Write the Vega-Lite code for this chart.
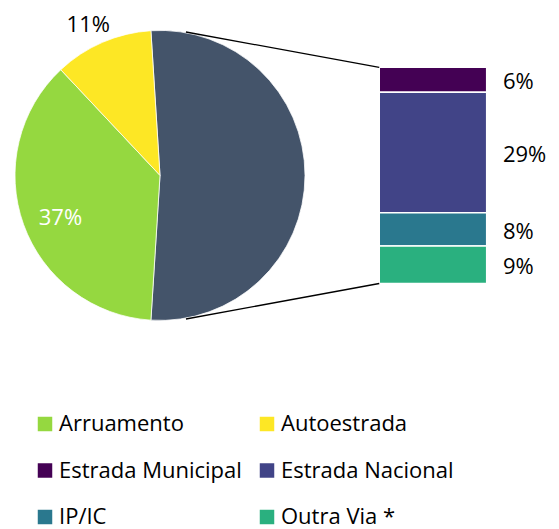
{
  "$schema": "https://vega.github.io/schema/vega-lite/v6.json",
  "width": 559,
  "height": 529,
  "padding": 0,
  "autosize": {"type": "none"},
  "background": "white",
  "config": {"view": {"stroke": null}, "font": "Open Sans"},
  "datasets": {
    "pie": [
      {"cat": "Outras", "v": 0.52, "ord": 1},
      {"cat": "Arruamento", "v": 0.37, "ord": 2},
      {"cat": "Autoestrada", "v": 0.11, "ord": 3}
    ],
    "bar": [
      {"cat": "Estrada Municipal", "v": 0.06, "ord": 4},
      {"cat": "Estrada Nacional", "v": 0.29, "ord": 3},
      {"cat": "IP/IC", "v": 0.08, "ord": 2},
      {"cat": "Outra Via *", "v": 0.09, "ord": 1}
    ]
  },
  "layer": [
    {
      "data": {"name": "pie"},
      "mark": {"type": "arc", "radius": 145, "stroke": "white", "strokeWidth": 0.75},
      "encoding": {
        "x": {"datum": 0.385, "type": "quantitative", "scale": {"domain": [0, 1.345], "nice": false, "zero": false}, "axis": null},
        "y": {"datum": 0.26, "type": "quantitative", "scale": {"domain": [-0.5906, 0.682], "nice": false, "zero": false}, "axis": null},
        "theta": {"field": "v", "type": "quantitative", "stack": true, "scale": {"domain": [0, 1], "range": [-0.06283, 6.22035]}},
        "order": {"field": "ord", "type": "quantitative"},
        "color": {
          "field": "cat", "type": "nominal",
          "scale": {
            "domain": ["Arruamento", "Autoestrada", "Estrada Municipal", "Estrada Nacional", "IP/IC", "Outra Via *", "Outras"],
            "range": ["#95D840", "#FDE725", "#440154", "#414487", "#2A788E", "#2AB07F", "#44546A"]
          },
          "legend": {
            "orient": "none", "legendX": 34, "legendY": 413, "columns": 2,
            "values": ["Arruamento", "Estrada Municipal", "IP/IC", "Autoestrada", "Estrada Nacional", "Outra Via *"],
            "symbolType": "square", "symbolSize": 210, "symbolStrokeWidth": 0,
            "labelFont": "Open Sans", "labelFontSize": 22, "labelColor": "black", "labelOffset": 3,
            "rowPadding": 24.5, "columnPadding": 14, "title": null, "labelLimit": 0, "padding": 0
          }
        }
      }
    },
    {
      "data": {"name": "pie"},
      "mark": {"type": "text", "radius": 109, "fontSize": 22, "color": "white", "align": "center", "baseline": "middle", "dx": 3, "dy": 6},
      "encoding": {
        "x": {"datum": 0.385, "type": "quantitative"},
        "y": {"datum": 0.26, "type": "quantitative"},
        "theta": {"field": "v", "type": "quantitative", "stack": true},
        "order": {"field": "ord", "type": "quantitative"},
        "text": {"condition": {"test": "datum.cat === 'Arruamento'", "field": "v", "format": ".0%"}, "value": ""}
      }
    },
    {
      "data": {"name": "pie"},
      "mark": {"type": "text", "radius": 168, "fontSize": 22, "color": "black", "align": "center", "baseline": "middle", "dx": -5, "dy": 3.5},
      "encoding": {
        "x": {"datum": 0.385, "type": "quantitative"},
        "y": {"datum": 0.26, "type": "quantitative"},
        "theta": {"field": "v", "type": "quantitative", "stack": true},
        "order": {"field": "ord", "type": "quantitative"},
        "text": {"condition": {"test": "datum.cat === 'Autoestrada'", "field": "v", "format": ".0%"}, "value": ""}
      }
    },
    {
      "data": {"name": "bar"},
      "transform": [
        {"stack": "v", "groupby": [], "sort": [{"field": "ord", "order": "ascending"}], "as": ["y0", "y1"]}
      ],
      "mark": {"type": "rect", "stroke": "white", "strokeWidth": 1.5},
      "encoding": {
        "x": {"datum": 0.9125, "type": "quantitative"},
        "x2": {"datum": 1.171},
        "y": {"field": "y0", "type": "quantitative"},
        "y2": {"field": "y1"},
        "color": {
          "field": "cat", "type": "nominal",
          "legend": {
            "orient": "none", "legendX": 34, "legendY": 413, "columns": 2,
            "values": ["Arruamento", "Estrada Municipal", "IP/IC", "Autoestrada", "Estrada Nacional", "Outra Via *"],
            "symbolType": "square", "symbolSize": 210, "symbolStrokeWidth": 0,
            "labelFont": "Open Sans", "labelFontSize": 22, "labelColor": "black", "labelOffset": 3,
            "rowPadding": 24.5, "columnPadding": 14, "title": null, "labelLimit": 0, "padding": 0
          }
        }
      }
    },
    {
      "data": {"name": "bar"},
      "mark": {"type": "text", "fontSize": 22, "color": "black", "align": "left", "baseline": "middle", "dy": 2.5},
      "encoding": {
        "x": {"datum": 1.21, "type": "quantitative"},
        "y": {"field": "v", "type": "quantitative", "stack": "zero", "bandPosition": 0.5},
        "order": {"field": "ord", "type": "quantitative"},
        "text": {"field": "v", "type": "quantitative", "format": ".0%"}
      }
    },
    {
      "data": {"values": [{}]},
      "mark": {"type": "rule", "color": "black", "strokeWidth": 1.3},
      "encoding": {
        "x": {"datum": 0.4474, "type": "quantitative"},
        "y": {"datum": 0.605, "type": "quantitative"},
        "x2": {"datum": 0.9125},
        "y2": {"datum": 0.52}
      }
    },
    {
      "data": {"values": [{}]},
      "mark": {"type": "rule", "color": "black", "strokeWidth": 1.3},
      "encoding": {
        "x": {"datum": 0.4474, "type": "quantitative"},
        "y": {"datum": -0.0854, "type": "quantitative"},
        "x2": {"datum": 0.9125},
        "y2": {"datum": 0.0}
      }
    }
  ]
}
